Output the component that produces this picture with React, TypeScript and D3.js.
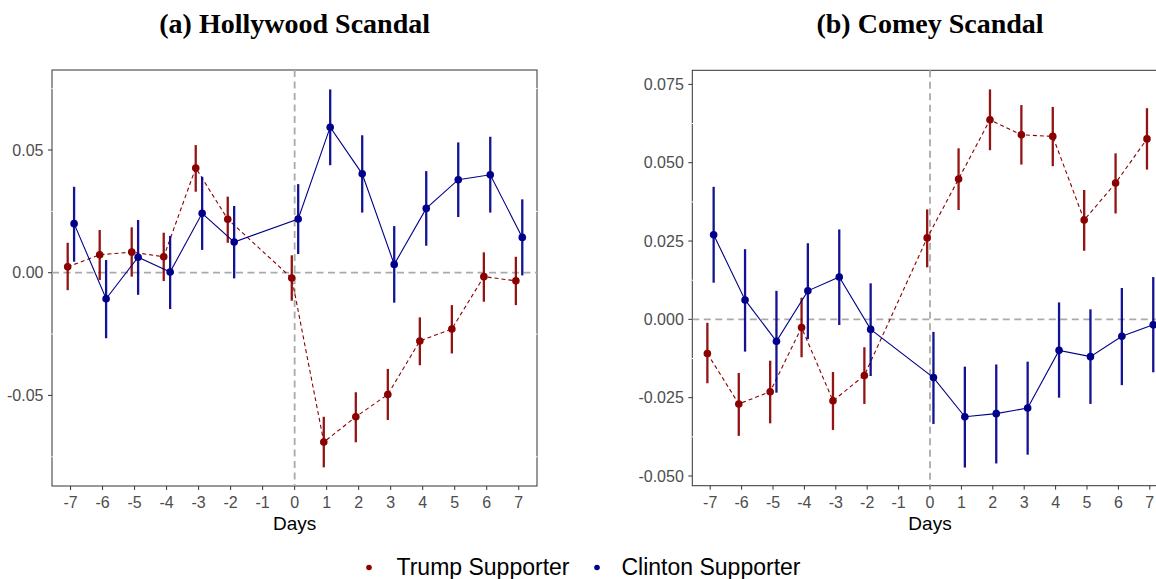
import React from "react";
import * as d3 from "d3";

// ---------- DATA ----------
const days = [-7, -6, -5, -4, -3, -2, 0, 1, 2, 3, 4, 5, 6, 7];
const xTickLabels = [-7, -6, -5, -4, -3, -2, -1, 0, 1, 2, 3, 4, 5, 6, 7];

// (a) Hollywood Scandal
const hollyTrumpEst = [0.0024, 0.0073, 0.0084, 0.0065, 0.0427, 0.0218, -0.0022, -0.069, -0.0587, -0.0496, -0.0278, -0.0229, -0.0016, -0.0033];
const hollyTrumpLo = [-0.0071, -0.003, -0.0016, -0.0034, 0.033, 0.0122, -0.0114, -0.0793, -0.0691, -0.06, -0.0377, -0.0329, -0.0118, -0.0132];
const hollyTrumpHi = [0.0122, 0.0174, 0.0185, 0.0163, 0.052, 0.031, 0.0071, -0.0587, -0.0487, -0.0392, -0.0182, -0.0132, 0.0083, 0.0065];
const hollyClintonEst = [0.02, -0.0106, 0.0063, 0.0003, 0.0242, 0.0125, 0.0219, 0.0593, 0.0403, 0.0034, 0.0262, 0.0379, 0.0399, 0.0144];
const hollyClintonLo = [0.0045, -0.0267, -0.009, -0.0148, 0.0093, -0.0023, 0.0076, 0.0438, 0.0245, -0.0122, 0.011, 0.0227, 0.0245, -0.0011];
const hollyClintonHi = [0.035, 0.0052, 0.0215, 0.015, 0.0391, 0.0272, 0.0361, 0.0747, 0.056, 0.019, 0.0414, 0.0531, 0.0554, 0.0299];
const hollyYTicks = [-0.05, 0, 0.05];

// (b) Comey Scandal
const comeyTrumpEst = [-0.0109, -0.027, -0.0231, -0.0026, -0.026, -0.0179, 0.026, 0.0448, 0.0637, 0.0589, 0.0584, 0.0317, 0.0435, 0.0576];
const comeyTrumpLo = [-0.0204, -0.0372, -0.0332, -0.0121, -0.0353, -0.027, 0.0166, 0.0349, 0.054, 0.0494, 0.0489, 0.0219, 0.0338, 0.0478];
const comeyTrumpHi = [-0.0011, -0.0171, -0.0132, 0.0069, -0.0168, -0.0089, 0.0351, 0.0546, 0.0734, 0.0684, 0.0678, 0.0413, 0.053, 0.0674];
const comeyClintonEst = [0.027, 0.0062, -0.007, 0.0091, 0.0135, -0.0032, -0.0186, -0.0311, -0.0301, -0.0283, -0.0099, -0.0119, -0.0054, -0.0017];
const comeyClintonLo = [0.0117, -0.0103, -0.0234, -0.0063, -0.0018, -0.0181, -0.0334, -0.0473, -0.046, -0.0432, -0.025, -0.027, -0.021, -0.0169];
const comeyClintonHi = [0.0423, 0.0224, 0.0091, 0.0243, 0.0287, 0.0115, -0.004, -0.0151, -0.0144, -0.0135, 0.0054, 0.0032, 0.01, 0.0135];
const comeyYTicks = [-0.05, -0.025, 0, 0.025, 0.05, 0.075];

const seriesNames = ["Trump Supporter", "Clinton Supporter"];
const titles = ["(a) Hollywood Scandal", "(b) Comey Scandal"];

// ---------- STYLE ----------
const RED = "#8B0000";
const BLUE = "#00008B";
const SANS = "'Liberation Sans', Arial, Helvetica, sans-serif";
const SERIF = "'Liberation Serif', 'Times New Roman', serif";

type Series = { est: number[]; lo: number[]; hi: number[]; color: string; dashed: boolean; dodge: number };

type PanelProps = {
  title: string;
  xRange: [number, number];
  xDomain: [number, number];
  yRange: [number, number];
  yDomain: [number, number];
  yTicks: number[];
  yFmt: (v: number) => string;
  series: Series[];
};

function Panel({ title, xRange, xDomain, yRange, yDomain, yTicks, yFmt, series }: PanelProps) {
  const x = d3.scaleLinear().domain(xDomain).range(xRange);
  const y = d3.scaleLinear().domain(yDomain).range(yRange);
  const [x0, x1] = xRange;
  const [yb, yt] = yRange;
  const step = yTicks[1] - yTicks[0];
  const minor: number[] = [];
  for (let v = yTicks[0] - step / 2; v <= yTicks[yTicks.length - 1] + step; v += step) {
    if (v > yDomain[0] && v < yDomain[1]) minor.push(v);
  }
  const cx = (x0 + x1) / 2;
  return (
    <g>
      <text x={x(0)} y={33} textAnchor="middle" fontFamily={SERIF} fontWeight="bold" fontSize={28} fill="#000">
        {title}
      </text>
      <rect x={x0} y={yt} width={x1 - x0} height={yb - yt} fill="#fff" stroke="#333" strokeWidth={1} />
      {minor.map((v, i) => (
        <line key={"m" + i} x1={x0 - 0.5} x2={x1 + 0.5} y1={y(v)} y2={y(v)} stroke="#fff" strokeWidth={1} />
      ))}
      {/* reference lines */}
      <line x1={x0} x2={x1} y1={y(0)} y2={y(0)} stroke="#aaaaaa" strokeWidth={1.8} strokeDasharray="7,4.5" />
      <line x1={x(0)} x2={x(0)} y1={yt} y2={yb} stroke="#aaaaaa" strokeWidth={1.8} strokeDasharray="7,4.5" />
      {/* y axis */}
      {yTicks.map((v) => (
        <g key={"y" + v}>
          <line x1={x0 - 4} x2={x0} y1={y(v)} y2={y(v)} stroke="#333" strokeWidth={1} />
          <text x={x0 - 8.5} y={y(v)} dy="0.35em" textAnchor="end" fontFamily={SANS} fontSize={16} fill="#4d4d4d">
            {yFmt(v)}
          </text>
        </g>
      ))}
      {/* x axis */}
      {xTickLabels.map((d) => (
        <g key={"x" + d}>
          <line x1={x(d)} x2={x(d)} y1={yb} y2={yb + 4} stroke="#333" strokeWidth={1} />
          <text x={x(d)} y={507.5} textAnchor="middle" fontFamily={SANS} fontSize={16} fill="#4d4d4d">
            {d}
          </text>
        </g>
      ))}
      <text x={x(0)} y={530} textAnchor="middle" fontFamily={SANS} fontSize={19} fill="#000">
        Days
      </text>
      {/* series */}
      {series.map((s, si) => {
        const pts = days.map((d, i) => [x(d + s.dodge), y(s.est[i])] as [number, number]);
        const line = d3.line()(pts) || "";
        return (
          <g key={"s" + si}>
            <path d={line} fill="none" stroke={s.color} strokeWidth={1.1} strokeDasharray={s.dashed ? "4,3" : undefined} />
            {days.map((d, i) => (
              <line key={"e" + i} x1={x(d + s.dodge)} x2={x(d + s.dodge)} y1={y(s.lo[i])} y2={y(s.hi[i])} stroke={s.color} strokeWidth={2.3} opacity={0.92} />
            ))}
            {days.map((d, i) => (
              <circle key={"p" + i} cx={x(d + s.dodge)} cy={y(s.est[i])} r={3.8} fill={s.color} />
            ))}
          </g>
        );
      })}
    </g>
  );
}

export default function App() {
  const fmt2 = d3.format(".2f");
  const fmt3 = d3.format(".3f");
  const hyph = (f: (v: number) => string) => (v: number) => f(v).replace("−", "-");
  const legendItems = [
    { label: seriesNames[0], color: RED, dotX: 369, textX: 396.5 },
    { label: seriesNames[1], color: BLUE, dotX: 597, textX: 621.5 },
  ];
  return (
    <div style={{ position: "absolute", left: 0, top: 0 }}>
      <svg width={1156} height={579} style={{ display: "block" }}>
        <rect width={1156} height={579} fill="#fff" />
        <Panel
          title={titles[0]}
          xRange={[52, 537]}
          xDomain={[-7.58, 7.57]}
          yRange={[486, 70]}
          yDomain={[-0.0869, 0.0826]}
          yTicks={hollyYTicks}
          yFmt={hyph(fmt2)}
          series={[
            { est: hollyTrumpEst, lo: hollyTrumpLo, hi: hollyTrumpHi, color: RED, dashed: true, dodge: -0.09 },
            { est: hollyClintonEst, lo: hollyClintonLo, hi: hollyClintonHi, color: BLUE, dashed: false, dodge: 0.11 },
          ]}
        />
        <Panel
          title={titles[1]}
          xRange={[692.3, 1167.7]}
          xDomain={[-7.57, 7.57]}
          yRange={[485.7, 70.3]}
          yDomain={[-0.0531, 0.0795]}
          yTicks={comeyYTicks}
          yFmt={hyph(fmt3)}
          series={[
            { est: comeyTrumpEst, lo: comeyTrumpLo, hi: comeyTrumpHi, color: RED, dashed: true, dodge: -0.09 },
            { est: comeyClintonEst, lo: comeyClintonLo, hi: comeyClintonHi, color: BLUE, dashed: false, dodge: 0.11 },
          ]}
        />
        {legendItems.map((it) => (
          <g key={it.label}>
            <circle cx={it.dotX} cy={567.5} r={2.8} fill={it.color} />
            <text x={it.textX} y={575} fontFamily={SANS} fontSize={23} fill="#000">
              {it.label}
            </text>
          </g>
        ))}
      </svg>
    </div>
  );
}
